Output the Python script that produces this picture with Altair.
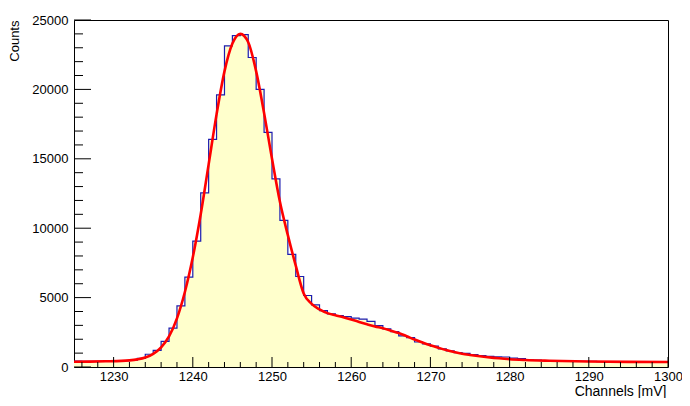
import altair as alt
import pandas as pd

# Histogram: lower bin edges (width 1 mV) and counts
bin_low = list(range(1225, 1300))
counts = [
    420, 400, 410, 400, 420, 430, 450, 500, 620, 920,          # 1225-1234
    1200, 1850, 2800, 4400, 6480, 9070, 12550, 16400, 19600, 23140,  # 1235-1244
    23870, 23940, 22300, 20000, 16900, 13560, 10570, 8120, 6520, 5150,  # 1245-1254
    4480, 4060, 3830, 3710, 3630, 3520, 3450, 3280, 2980, 2750,  # 1255-1264
    2550, 2240, 2120, 1800, 1660, 1500, 1300, 1160, 1040, 980,   # 1265-1274
    900, 820, 760, 740, 720, 640, 600, 520, 500, 460,            # 1275-1284
    450, 440, 420, 410, 400, 400, 390, 380, 380, 370,            # 1285-1294
    370, 390, 360, 360, 350,                                     # 1295-1299
]

# Fit curve
fit_x = [1225, 1227, 1229, 1231, 1232, 1233, 1234, 1235, 1236, 1237, 1238, 1239,
         1240, 1241, 1242, 1243, 1244, 1245, 1246, 1247, 1248, 1249, 1250, 1251,
         1252, 1253, 1254, 1255, 1256, 1257, 1258, 1259, 1260, 1261, 1262, 1263,
         1264, 1265, 1266, 1267, 1268, 1269, 1270, 1271, 1272, 1273, 1274, 1275,
         1276, 1277, 1278, 1279, 1280, 1282, 1285, 1290, 1295, 1300]
fit_y = [380, 390, 410, 440, 480, 550, 680, 950, 1420, 2200, 3500, 5400,
         7900, 11000, 14600, 18200, 21300, 23300, 24000, 23400, 21300, 18300, 15000, 11900,
         9500, 7300, 5300, 4550, 4150, 3880, 3720, 3580, 3420, 3250, 3080, 2920,
         2790, 2620, 2450, 2220, 1980, 1770, 1570, 1390, 1220, 1080, 960, 870,
         790, 720, 660, 610, 560, 500, 450, 400, 370, 360]

y_major = [0, 5000, 10000, 15000, 20000, 25000]
y_minor = [1000, 2000, 3000, 4000, 6000, 7000, 8000, 9000, 11000, 12000, 13000, 14000,
           16000, 17000, 18000, 19000, 21000, 22000, 23000, 24000]
x_major = [1230, 1240, 1250, 1260, 1270, 1280, 1290, 1300]
x_minor = [1226, 1228, 1232, 1234, 1236, 1238, 1242, 1244, 1246, 1248, 1252, 1254,
           1256, 1258, 1262, 1264, 1266, 1268, 1272, 1274, 1276, 1278, 1282, 1284,
           1286, 1288, 1292, 1294, 1296, 1298]

W, H = 594, 347
FONT = "Liberation Sans"

hist = pd.DataFrame({"x": bin_low + [1300], "y": counts + [counts[-1]]})
fit = pd.DataFrame({"x": fit_x, "y": fit_y})

xs = alt.Scale(domain=[1225, 1300], nice=False, zero=False)
ys = alt.Scale(domain=[0, 25000], nice=False)

xaxis = alt.Axis(values=x_major, format="d", ticks=False, domain=False, grid=False,
                 labelFont=FONT, labelFontSize=13, labelColor="black", labelPadding=3,
                 labelFlush=False, labelOverlap=False,
                 title="Channels [mV]", titleFont=FONT, titleFontSize=14,
                 titleFontWeight="normal", titleColor="black", titleAnchor="end",
                 titleAlign="right", titleBaseline="alphabetic", titleX=W - 2, titleY=28)
yaxis = alt.Axis(values=y_major, format="d", ticks=False, domain=False, grid=False,
                 labelFont=FONT, labelFontSize=13, labelColor="black", labelPadding=6,
                 labelFlush=False, labelOverlap=False,
                 title="Counts", titleFont=FONT, titleFontSize=13,
                 titleFontWeight="normal", titleColor="black", titleAngle=-90,
                 titleAlign="right", titleBaseline="middle", titleX=-60, titleY=0)

X = alt.X("x:Q", scale=xs, axis=xaxis)
Y = alt.Y("y:Q", scale=ys, axis=yaxis)

area = alt.Chart(hist).mark_area(interpolate="step-after", color="#ffffcc", clip=True).encode(
    x=X, y=Y)
outline = alt.Chart(hist).mark_line(interpolate="step-after", color="#1c1cb0",
                                    strokeWidth=1.2, clip=True).encode(x=X, y=Y)
fitline = alt.Chart(fit).mark_line(interpolate="monotone", color="#ff0000",
                                   strokeWidth=2.6, clip=True).encode(x=X, y=Y)

ymaj = alt.Chart(pd.DataFrame({"y": y_major})).mark_tick(
    color="black", size=17, thickness=1, opacity=1).encode(y=Y, x=alt.value(8.5))
ymin = alt.Chart(pd.DataFrame({"y": y_minor})).mark_tick(
    color="black", size=9, thickness=1, opacity=1).encode(y=Y, x=alt.value(4.5))
xmaj = alt.Chart(pd.DataFrame({"x": x_major})).mark_tick(
    color="black", size=10, thickness=1, opacity=1).encode(x=X, y=alt.value(H - 5))
xmin = alt.Chart(pd.DataFrame({"x": x_minor})).mark_tick(
    color="black", size=5, thickness=1, opacity=1).encode(x=X, y=alt.value(H - 2.5))

chart = alt.layer(area, outline, fitline, ymaj, ymin, xmaj, xmin).properties(
    width=W, height=H,
    autosize=alt.AutoSizeParams(type="none"),
    padding={"left": 66, "top": 12, "right": 14, "bottom": 31},
    background="white",
).configure_view(stroke="black", strokeWidth=1)

chart.save("out.html", embed_options={"renderer": "svg", "actions": False})
